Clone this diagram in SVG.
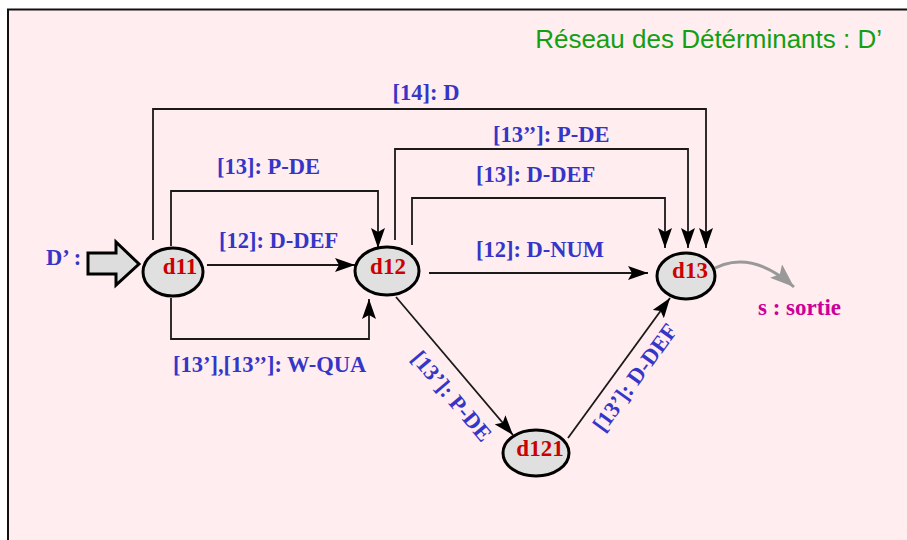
<svg xmlns="http://www.w3.org/2000/svg" width="907" height="540" viewBox="0 0 907 540">
<style>
.lbl{font-family:"Liberation Serif","Times New Roman",serif;font-weight:bold;font-size:22.5px;fill:#3535c8}
.nt{font-family:"Liberation Serif","Times New Roman",serif;font-weight:bold;font-size:23px;fill:#cc0000;text-anchor:middle}
.node{fill:#e0e0e0;stroke:#000;stroke-width:3}
.con{fill:none;stroke:#1a1a1a;stroke-width:1.8;marker-end:url(#ah)}
</style>
<defs>
<marker id="ah" markerUnits="userSpaceOnUse" viewBox="0 0 20 14" refX="20" refY="7" markerWidth="20" markerHeight="14" orient="auto">
<path d="M0,0 L20,7 L0,14 L4,7 z" fill="#000"/>
</marker>
<marker id="ahg" markerUnits="userSpaceOnUse" viewBox="0 0 24 18" refX="24" refY="9" markerWidth="24" markerHeight="18" orient="auto">
<path d="M0,0 L24,9 L0,18 L5,9 z" fill="#999"/>
</marker>
</defs>
<rect x="0" y="0" width="907" height="540" fill="#ffffff"/>
<rect x="8" y="9.5" width="1000" height="600" fill="#ffedef" stroke="#111" stroke-width="2"/>
<text x="882" y="48" font-family="'Liberation Sans',Arial,sans-serif" font-size="26" fill="#12a012" text-anchor="end">Réseau des Détérminants : D’</text>

<g id="connectors">
<path class="con" d="M153,240 V109 H706 V248"/>
<path class="con" d="M395,240 V149 H688 V248"/>
<path class="con" d="M412,245 V198 H665 V248"/>
<path class="con" d="M171,246 V191 H378 V248"/>
<path class="con" d="M207,265 H355"/>
<path class="con" d="M171,298 V339 H369 V299"/>
<path class="con" d="M429,273 H648"/>
<path class="con" d="M396,297 L513,435" stroke-width="1.5"/>
<path class="con" d="M568,438 L670,298" stroke-width="1.5"/>
<path d="M708,272 Q748,246 794,287" fill="none" stroke="#999" stroke-width="3" marker-end="url(#ahg)"/>
<text class="lbl" x="426" y="100" text-anchor="middle">[14]: D</text>
<text class="lbl" x="493" y="142">[13’’]: P-DE</text>
<text class="lbl" x="476" y="182">[13]: D-DEF</text>
<text class="lbl" x="217" y="174">[13]: P-DE</text>
<text class="lbl" x="219" y="248">[12]: D-DEF</text>
<text class="lbl" x="476" y="257">[12]: D-NUM</text>
<text class="lbl" x="173" y="372">[13’],[13’’]: W-QUA</text>
<text class="lbl" x="446" y="401" text-anchor="middle" transform="rotate(49.7 446 401)">[13’]: P-DE</text>
<text class="lbl" x="641" y="382" text-anchor="middle" transform="rotate(-54 641 382)">[13’]: D-DEF</text>
</g>

<g id="input">
<path d="M88,253 H116 V242 L139,264 L116,285 V274 H88 z" fill="#dddddd" stroke="#000" stroke-width="3" stroke-linejoin="miter"/>
<text class="lbl" x="46" y="265">D’ :</text>
</g>
<g id="d11">
<ellipse class="node" cx="173" cy="272" rx="30" ry="24"/>
<text class="nt" x="180" y="274">d11</text>
</g>
<g id="d12">
<ellipse class="node" cx="387" cy="271" rx="32" ry="24"/>
<text class="nt" x="388" y="274">d12</text>
</g>
<g id="d13">
<ellipse class="node" cx="686" cy="276" rx="29" ry="23"/>
<text class="nt" x="690" y="278">d13</text>
</g>
<g id="d121">
<ellipse class="node" cx="536" cy="453" rx="33" ry="23"/>
<text class="nt" x="540" y="456">d121</text>
</g>
<g id="exit">
<text x="758" y="315" font-family="'Liberation Serif','Times New Roman',serif" font-weight="bold" font-size="23" fill="#cc0099">s : sortie</text>
</g>
</svg>
